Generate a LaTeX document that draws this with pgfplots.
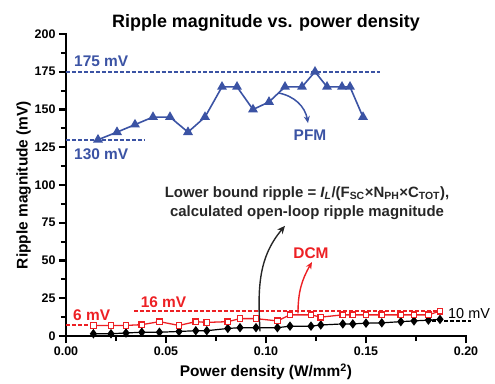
\documentclass[border=0pt]{standalone}
\usepackage{fontspec}
\setmainfont{Liberation Sans}
\usepackage{pgfplots}
\pgfplotsset{compat=1.18}
\usetikzlibrary{arrows.meta}
\definecolor{pfmblue}{RGB}{59,83,164}
\definecolor{dcmred}{RGB}{237,32,36}
\begin{document}
\begin{tikzpicture}
\useasboundingbox (0,0) rectangle (495bp,384bp);
\begin{axis}[
  at={(66bp,48bp)}, anchor=south west,
  scale only axis,
  width=400bp, height=302bp,
  xmin=0, xmax=0.2, ymin=0, ymax=200,
  clip=false,
  axis lines=left,
  axis line style={-, line width=2.4pt, draw=black},
  xtick={0,0.05,0.1,0.15,0.2},
  ytick={0,25,50,75,100,125,150,175,200},
  minor xtick={0.025,0.075,0.125,0.175},
  minor ytick={12.5,37.5,62.5,87.5,112.5,137.5,162.5,187.5},
  xtick align=outside, ytick align=outside,
  major tick length=7bp, minor tick length=5bp,
  every tick/.append style={line width=2.2pt, draw=black},
  /pgf/number format/assume math mode=true,
  xticklabel style={/pgf/number format/.cd, fixed, fixed zerofill, precision=2},
  ticklabel style={font=\fontsize{12.5}{15}\selectfont\bfseries},
  title={Ripple magnitude vs. power density},
  title style={font=\fontsize{18}{21}\selectfont\bfseries, yshift=-7bp},
  xlabel={Power density (W/mm\textsuperscript{2})},
  ylabel={Ripple magnitude (mV)},
  label style={font=\fontsize{15.5}{18}\selectfont\bfseries},
  xlabel style={yshift=-2bp},
  ylabel style={yshift=-3bp},
]
% axis lines and ticks
\draw[line width=2.2pt, line cap=rect] (axis cs:0,0) -- (axis cs:0.2,0);
\draw[line width=2.2pt, line cap=rect] (axis cs:0,0) -- (axis cs:0,200);
\pgfplotsinvokeforeach{0,0.05,0.1,0.15,0.2}{\draw[line width=2pt] (axis cs:#1,0) -- ++(0pt,-7bp);}
\pgfplotsinvokeforeach{0.025,0.075,0.125,0.175}{\draw[line width=2pt] (axis cs:#1,0) -- ++(0pt,-5bp);}
\pgfplotsinvokeforeach{0,25,50,75,100,125,150,175,200}{\draw[line width=2pt] (axis cs:0,#1) -- ++(-7bp,0pt);}
\pgfplotsinvokeforeach{12.5,37.5,62.5,87.5,112.5,137.5,162.5,187.5}{\draw[line width=2pt] (axis cs:0,#1) -- ++(-5bp,0pt);}
% reference dashed lines
\addplot[pfmblue, line width=2.2pt, dash pattern=on 4pt off 2pt, forget plot] coordinates {(0,175) (0.157,175)};
\addplot[pfmblue, line width=2.2pt, dash pattern=on 4pt off 2pt, forget plot] coordinates {(0,130) (0.039,130)};
\addplot[dcmred, line width=2pt, dash pattern=on 4pt off 2pt, forget plot] coordinates {(0,7) (0.015,7)};
\addplot[dcmred, line width=1.6pt, dash pattern=on 4pt off 2pt, forget plot] coordinates {(0.034,16.5) (0.187,16.5)};
\addplot[black, line width=1.6pt, dash pattern=on 4pt off 2pt, forget plot] coordinates {(0.183,10) (0.2025,10)};
% PFM
\addplot[pfmblue, line width=1.6pt, mark=triangle*, mark size=4.2pt, mark options={solid}] coordinates {
(0.016,130) (0.0255,135) (0.0345,140) (0.0435,145) (0.052,145) (0.061,135)
(0.0695,145) (0.078,165) (0.0855,165) (0.0935,150) (0.1015,155) (0.1095,165)
(0.118,165) (0.1245,175) (0.1305,165) (0.138,165) (0.142,165) (0.1485,145)};
% lower bound (black)
\addplot[black, line width=1.2pt, mark=diamond*, mark size=3.8pt] coordinates {
(0.0137,1.5) (0.0225,1.5) (0.030,2) (0.0379,2.5) (0.0467,2.5) (0.0565,3)
(0.0649,3.5) (0.0704,3.5) (0.0809,5) (0.087,5.5) (0.095,5.5) (0.1057,5.5)
(0.112,6.5) (0.1225,6.5) (0.1274,7.3) (0.1384,8) (0.1434,8) (0.150,8.5)
(0.1579,8.7) (0.1674,9.5) (0.174,10) (0.1812,10.5) (0.187,11)};
% DCM
\addplot[dcmred, line width=1.3pt, mark=square*, mark size=2.8pt, mark options={fill=white, line width=1.3pt}] coordinates {
(0.0137,7) (0.0225,7) (0.030,7) (0.0379,7.5) (0.0467,9.5) (0.0565,7)
(0.0649,9.5) (0.0704,9) (0.0809,9.5) (0.087,11.5) (0.095,11.5) (0.1057,10)
(0.112,14) (0.1225,14) (0.1274,12.5) (0.1384,14) (0.1434,14) (0.150,14)
(0.1579,14) (0.1674,14) (0.174,14) (0.1812,14) (0.187,16.5)};
% labels
\node[anchor=west, inner sep=0pt, text=pfmblue, font=\fontsize{15.5}{18}\selectfont\bfseries] at (axis cs:0.004,182) {175 mV};
\node[anchor=west, inner sep=0pt, text=pfmblue, font=\fontsize{15.5}{18}\selectfont\bfseries] at (axis cs:0.004,120.5) {130 mV};
\node[anchor=west, inner sep=0pt, text=dcmred, font=\fontsize{15.5}{18}\selectfont\bfseries] at (axis cs:0.0035,13.8) {6 mV};
\node[anchor=west, inner sep=0pt, text=dcmred, font=\fontsize{15.5}{18}\selectfont\bfseries] at (axis cs:0.0373,22.5) {16 mV};
\node[anchor=west, inner sep=0pt, text=black, font=\fontsize{14.5}{17}\selectfont] at (axis cs:0.191,15) {10 mV};
\node[text=pfmblue, font=\fontsize{15.5}{18}\selectfont\bfseries] at (axis cs:0.122,133) {PFM};
\node[text=dcmred, font=\fontsize{15.5}{18}\selectfont\bfseries] at (axis cs:0.1225,55) {DCM};
\node[align=center, font=\fontsize{15}{19.5}\selectfont\bfseries, text=black!85] at (axis cs:0.1205,88) {Lower bound ripple = \textit{I\textsubscript{L}}/(F\textsubscript{SC}×N\textsubscript{PH}×C\textsubscript{TOT}),\\calculated open-loop ripple magnitude};
% arrows
\draw[pfmblue, line width=1.5pt, -{Stealth[length=7pt,width=6pt]}] (axis cs:0.106,161) to[out=-10,in=100] (axis cs:0.121,141);
\draw[dcmred, line width=1.4pt, -{Stealth[length=7pt,width=6pt]}] (axis cs:0.116,15) to[out=90,in=240] (axis cs:0.123,49);
\draw[black!85, line width=1.4pt, -{Stealth[length=8pt,width=7pt]}] (axis cs:0.097,3) to[out=93,in=230] (axis cs:0.1095,73);
\end{axis}
\end{tikzpicture}
\end{document}
